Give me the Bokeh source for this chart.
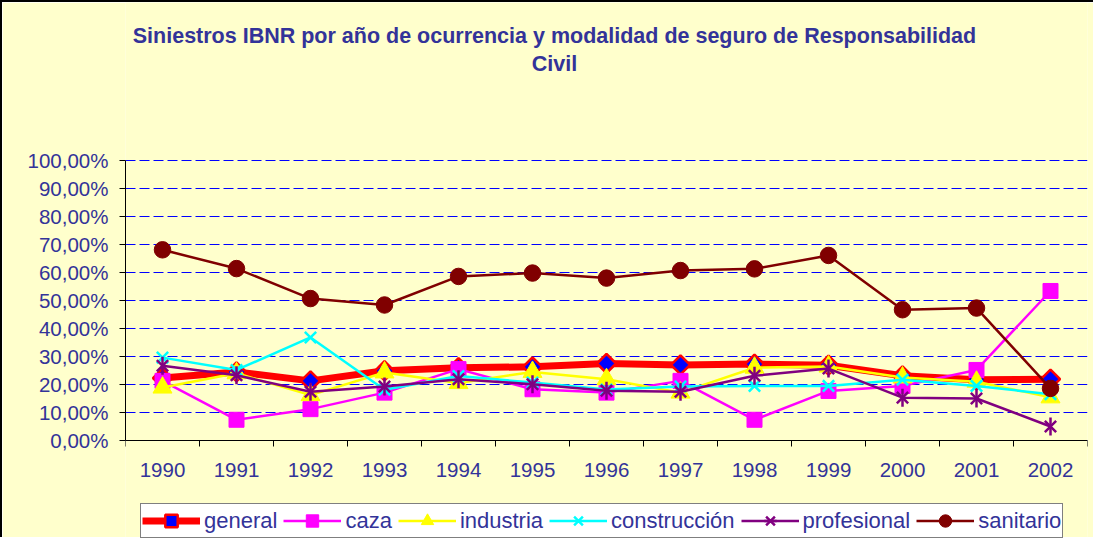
from bokeh.plotting import figure
from bokeh.models import (Range1d, FixedTicker, Legend, LegendItem, Label,
                          ColumnDataSource)
from bokeh.embed import file_html
from bokeh.resources import INLINE

# ---------------- data ----------------
years = [1990, 1991, 1992, 1993, 1994, 1995, 1996, 1997, 1998, 1999, 2000, 2001, 2002]
general = [22.3, 24.5, 21.3, 24.9, 26.0, 26.3, 27.5, 27.0, 27.3, 26.9, 23.1, 21.7, 21.9]
caza = [21.3, 7.4, 11.2, 17.1, 25.5, 18.3, 17.1, 21.3, 7.4, 17.7, 19.5, 25.2, 53.4]
industria = [18.9, 24.0, 16.2, 24.3, 20.5, 24.5, 21.9, 17.1, 26.0, 26.4, 22.5, 21.0, 15.4]
construccion = [29.6, 25.2, 36.8, 18.1, 23.0, 20.7, 18.2, 19.3, 19.5, 19.5, 21.7, 19.5, 16.5]
profesional = [26.7, 23.3, 17.4, 19.3, 21.9, 20.1, 17.8, 17.4, 23.1, 25.7, 15.3, 15.0, 5.0]
sanitario = [68.1, 61.4, 50.7, 48.4, 58.6, 59.8, 58.0, 60.7, 61.3, 66.1, 46.7, 47.3, 18.6]
y_ticks = [0, 10, 20, 30, 40, 50, 60, 70, 80, 90, 100]
y_tick_labels = ["0,00%", "10,00%", "20,00%", "30,00%", "40,00%", "50,00%",
                 "60,00%", "70,00%", "80,00%", "90,00%", "100,00%"]
title_lines = ["Siniestros IBNR por año de ocurrencia y modalidad de seguro de Responsabilidad",
               "Civil"]

BG = "#FFFFCC"
TXT = "#333399"
FONT = "Liberation Sans"

# The frame fills the whole canvas height; the value axis covers 0..100 % only
# (280 px), the area above holds the title, the area below the year axis and legend.
p = figure(width=1093, height=537, output_backend="svg", toolbar_location=None,
           x_range=Range1d(years[0] - 0.5, years[-1] + 0.5),
           y_range=Range1d(-35.357, 156.43),
           min_border_left=123, min_border_right=8, min_border_top=0, min_border_bottom=0)
p.styles = {"border-left": "2px solid black", "border-top": "2px solid black"}
p.background_fill_color = BG
p.border_fill_color = BG
p.outline_line_color = None

# x axis, pinned at 0 %
p.xaxis.fixed_location = 0
p.xaxis.ticker = FixedTicker(ticks=years, minor_ticks=[y - 0.5 for y in years] + [years[-1] + 0.5])
p.xaxis.major_label_overrides = {y: str(y) for y in years}
p.xaxis.major_tick_out = 0
p.xaxis.major_tick_in = 0
p.xaxis.minor_tick_out = 6
p.xaxis.minor_tick_in = 0
p.xaxis.minor_tick_line_color = "black"
p.xaxis.major_label_standoff = 16

p.yaxis.ticker = FixedTicker(ticks=y_ticks)
p.yaxis.bounds = (0, 100)
p.yaxis.major_label_overrides = {t: l for t, l in zip(y_ticks, y_tick_labels)}
p.yaxis.minor_tick_line_color = None
p.yaxis.major_tick_out = 6
p.yaxis.major_tick_in = 0
p.yaxis.major_label_standoff = 11

for ax in (p.xaxis, p.yaxis):
    ax.axis_line_color = "black"
    ax.axis_line_width = 1
    ax.major_label_text_font = FONT
    ax.major_label_text_font_size = "20.5px"
    ax.major_label_text_color = TXT
p.yaxis.major_tick_line_color = "black"
p.xaxis.major_tick_line_color = None

p.xgrid.grid_line_color = None
p.ygrid.grid_line_color = "#0000FF"
p.ygrid.grid_line_dash = "10 4"
p.ygrid.grid_line_width = 1

items = []

def add_series(name, vals, color, lw, marker, msize, fill, mline, mlw, angle=0.0):
    src = ColumnDataSource(dict(x=years, y=vals))
    r1 = p.line("x", "y", source=src, line_color=color, line_width=lw)
    rs = [r1]
    r2 = p.scatter("x", "y", source=src, marker=marker, size=msize, fill_color=fill,
                   line_color=mline, line_width=mlw, angle=angle)
    rs.append(r2)
    if name == "profesional":
        r3 = p.scatter("x", "y", source=src, marker="dash", size=msize + 2, line_color=mline,
                       line_width=mlw, angle=1.5708)
        rs.append(r3)
    items.append(LegendItem(label=name, renderers=rs))

add_series("general", general, "#FF0000", 7, "square", 13.5, "#0000FF", "#FF0000", 2.5, angle=0.7854)
add_series("caza", caza, "#FF00FF", 2.5, "square", 15, "#FF00FF", "#FF00FF", 1)
add_series("industria", industria, "#FFFF00", 2.5, "triangle", 19, "#FFFF00", "#FFFF00", 1)
add_series("construcción", construccion, "#00FFFF", 2.5, "x", 16, None, "#00FFFF", 2.5)
add_series("profesional", profesional, "#800080", 2.5, "x", 16, None, "#800080", 2.5)
add_series("sanitario", sanitario, "#800000", 2.5, "circle", 16.5, "#800000", "#800000", 1)

legend = Legend(items=items, location=(15, 1), orientation="horizontal",
                background_fill_color="white", background_fill_alpha=1,
                border_line_color="black", border_line_width=1,
                label_text_font=FONT, label_text_font_size="22px", label_text_color=TXT,
                glyph_width=58, glyph_height=31, label_height=20, label_standoff=4,
                spacing=6, padding=1, margin=0)
p.add_layout(legend)

for t, yy in zip(title_lines, [144.5, 134.6]):
    p.add_layout(Label(x=1995.297, y=yy, text=t, text_align="center", text_baseline="alphabetic",
                       text_font=FONT, text_font_style="bold", text_font_size="21.5px",
                       text_color=TXT))

open("out.html", "w").write(file_html(p, INLINE))
